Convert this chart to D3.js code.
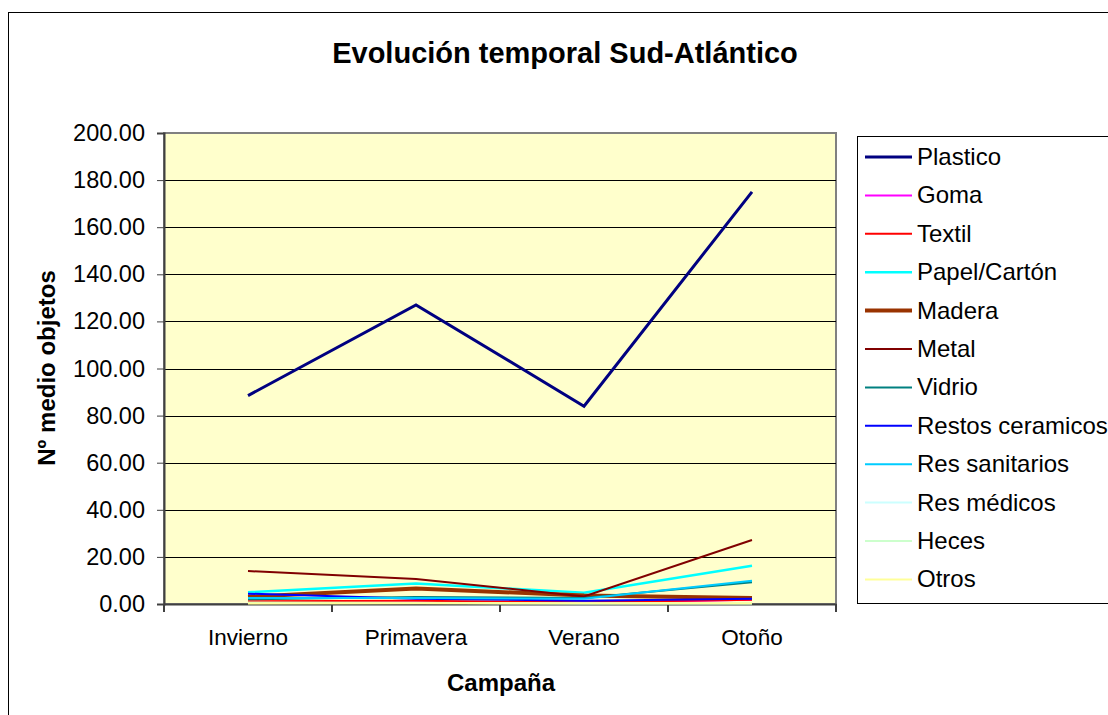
<!DOCTYPE html>
<html><head><meta charset="utf-8">
<script src="https://cdn.jsdelivr.net/npm/d3@7"></script>
<style>body{margin:0;background:#fff}svg{display:block;font-family:"Liberation Sans",Arial,sans-serif}</style>
</head><body><svg id="c" width="1108" height="715"></svg>
<script>
const categories = ["Invierno", "Primavera", "Verano", "Otoño"];
const seriesNames = ["Plastico","Goma","Textil","Papel/Cartón","Madera","Metal","Vidrio","Restos ceramicos","Res sanitarios","Res médicos","Heces","Otros"];
const plastico = [88.5, 127, 84, 175];
const goma = [0.5, 0.7, 0.5, 1.8];
const textil = [1.2, 1.4, 0.7, 1.8];
const papel = [5, 8.7, 4.8, 16.2];
const madera = [3.1, 6.6, 3.6, 2.6];
const metal = [14, 10.6, 3.2, 27.2];
const vidrio = [2, 3, 2.5, 9.2];
const ceramicos = [4.4, 2.2, 1.4, 2.2];
const sanitarios = [2.5, 2.6, 2.2, 9.9];
const medicos = [0.4, 0.4, 0.3, 0.3];
const heces = [0.6, 0.5, 0.2, 0.2];
const otros = [0.2, 0.3, 0.3, 0.3];
const yTicks = [0,20,40,60,80,100,120,140,160,180,200];
const seriesValues = [plastico,goma,textil,papel,madera,metal,vidrio,ceramicos,sanitarios,medicos,heces,otros];
const colors = ["#000080","#FF00FF","#FF0000","#00FFFF","#993300","#800000","#008080","#0000FF","#00CCFF","#CCFFFF","#CCFFCC","#FFFF99"];
const widths = [3,2,2,2.5,4,2,2,2,2,2,2,2];

const svg = d3.select("#c");
const L=164,R=836,T=133,B=604;
svg.append("rect").attr("x",8.5).attr("y",12.5).attr("width",1200).attr("height",800).attr("fill","#fff").attr("stroke","#000").attr("stroke-width",1);
svg.append("rect").attr("x",L).attr("y",T).attr("width",R-L).attr("height",B-T).attr("fill","#FFFFCC").attr("stroke","#808080").attr("stroke-width",2);

const x = d3.scaleBand().domain(categories).range([L,R]);
const y = d3.scaleLinear().domain([0,200]).range([B,T]);

// gridlines
svg.append("g").selectAll("line").data(yTicks.slice(1,-1)).join("line")
  .attr("x1",L).attr("x2",R).attr("y1",d=>Math.round(y(d))+0.5).attr("y2",d=>Math.round(y(d))+0.5)
  .attr("stroke","#000").attr("stroke-width",1);

// y axis
const ya = svg.append("g").attr("transform",`translate(${L},0)`)
  .call(d3.axisLeft(y).tickValues(yTicks).tickFormat(d3.format(".2f")).tickSize(7).tickPadding(12));
ya.select(".domain").attr("stroke","#404040").attr("stroke-width",2);
ya.selectAll(".tick line").attr("stroke","#404040");
ya.selectAll("text").attr("font-size",23.5).attr("fill","#000").attr("font-family","Liberation Sans, Arial");

// x axis
const xa = svg.append("g").attr("transform",`translate(0,${B})`)
  .call(d3.axisBottom(x).tickSize(0).tickPadding(26));
xa.select(".domain").attr("stroke","#404040").attr("stroke-width",2);
xa.selectAll("text").attr("font-size",22.5).attr("fill","#000").attr("font-family","Liberation Sans, Arial")
  .attr("y",41).attr("dy",0);
// category separators ticks
const bounds = categories.map(c=>x(c)).concat([R]);
svg.append("g").selectAll("line").data(bounds).join("line")
  .attr("x1",d=>d).attr("x2",d=>d).attr("y1",B).attr("y2",B+8).attr("stroke","#404040").attr("stroke-width",2);

// lines
const line = d3.line().x((d,i)=>x(categories[i])+x.bandwidth()/2).y(d=>y(d));
const lg = svg.append("g");
seriesValues.forEach((vals,i)=>{
  lg.append("path").datum(vals).attr("d",line).attr("fill","none")
    .attr("stroke",colors[i]).attr("stroke-width",widths[i]).attr("stroke-linejoin","miter");
});

// title
svg.append("text").attr("x",565).attr("y",63).attr("text-anchor","middle")
  .attr("font-size",29).attr("font-weight","bold").text("Evolución temporal Sud-Atlántico");
svg.append("text").attr("x",501).attr("y",691).attr("text-anchor","middle")
  .attr("font-size",24).attr("font-weight","bold").text("Campaña");
svg.append("text").attr("transform","translate(55,368) rotate(-90)").attr("text-anchor","middle")
  .attr("font-size",24).attr("font-weight","bold").text("Nº medio objetos");

// legend
svg.append("rect").attr("x",857.5).attr("y",136.5).attr("width",300).attr("height",467).attr("fill","#fff").attr("stroke","#000").attr("stroke-width",1);
const leg = svg.append("g");
seriesNames.forEach((n,i)=>{
  const yy = 157 + i*38.4;
  leg.append("line").attr("x1",865).attr("x2",912).attr("y1",yy).attr("y2",yy).attr("stroke",colors[i]).attr("stroke-width",widths[i]);
  leg.append("text").attr("x",917).attr("y",yy+8).attr("font-size",24).text(n);
});
</script></body></html>
